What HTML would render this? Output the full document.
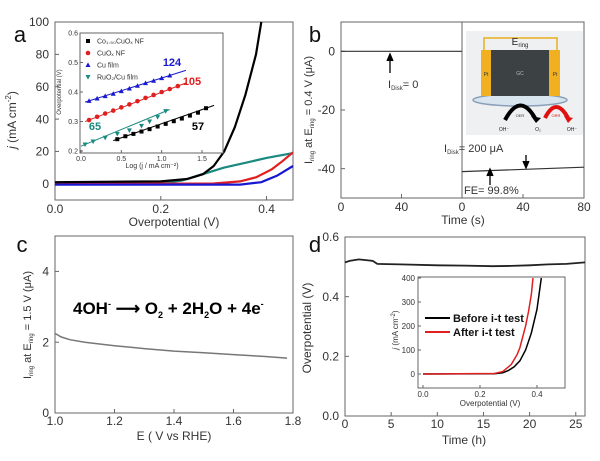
<!DOCTYPE html>
<html><head><meta charset="utf-8"><style>
body{margin:0;background:#fff}
svg{display:block;font-family:"Liberation Sans",Arial,sans-serif}
</style></head><body>
<svg id="fig" width="600" height="461" viewBox="0 0 600 461">
<g id="g"></g>
</svg>
<script>
// ---------- data ----------
const aTicksX=[0.0,0.2,0.4], aTicksY=[0,20,40,60,80,100];
const aBlackX=[0,0.2,0.25,0.28,0.3,0.32,0.34,0.36,0.38,0.39];
const aBlackY=[1,1.5,3,6,11,20,35,55,80,100];
const aTealX=[0,0.2,0.24,0.28,0.32,0.36,0.40,0.45];
const aTealY=[0,0.5,2,6,10,13,16,19];
const aRedX=[0,0.3,0.35,0.38,0.41,0.43,0.45];
const aRedY=[0,0.2,1.5,4,9,14,19.5];
const aBlueX=[0,0.35,0.39,0.42,0.45];
const aBlueY=[-0.5,-0.5,1,5,11];
const inTicksX=[0.0,0.5,1.0,1.5], inTicksY=[0.2,0.3,0.4,0.5,0.6];
const inBlueX=[0.1,0.2,0.3,0.4,0.5,0.6,0.7,0.8,0.9,1.0,1.1];
const inBlueY=[0.37,0.378,0.386,0.394,0.403,0.412,0.421,0.43,0.438,0.447,0.456];
const inRedX=[0.1,0.2,0.3,0.4,0.5,0.6,0.7,0.8,0.9,1.0,1.1,1.2];
const inRedY=[0.305,0.316,0.327,0.337,0.348,0.358,0.369,0.38,0.39,0.4,0.41,0.42];
const inBlackX=[0.45,0.55,0.65,0.75,0.85,0.95,1.05,1.15,1.25,1.35,1.45,1.55];
const inBlackY=[0.24,0.25,0.258,0.266,0.274,0.283,0.292,0.301,0.31,0.32,0.33,0.345];
const inTealX=[0.05,0.15,0.3,0.45,0.6,0.75,0.85,0.95,1.05];
const inTealY=[0.222,0.232,0.245,0.258,0.27,0.285,0.3,0.315,0.335];
const bTicksY=[0,-20,-40];
const bLeftT=[0,80], bLeftI=[0,0];
const bRightT=[0,80], bRightI=[-41,-39.5];
const cTicksX=[1.0,1.2,1.4,1.6,1.8], cTicksY=[0,2,4];
const cE=[1.0,1.02,1.05,1.1,1.15,1.2,1.3,1.4,1.5,1.6,1.7,1.78];
const cI=[2.25,2.15,2.07,2.0,1.95,1.9,1.82,1.75,1.7,1.65,1.6,1.55];
const dTicksX=[0,5,10,15,20,25], dTicksY=[0.0,0.2,0.4,0.6];
const dT=[0,0.5,1.5,3,3.5,6,10,13,16,18,20,22,24,26];
const dV=[0.515,0.52,0.525,0.52,0.51,0.508,0.505,0.504,0.502,0.503,0.505,0.508,0.51,0.515];
const diTicksX=[0.0,0.2,0.4], diTicksY=[0,100,200,300,400];
const diBlackX=[0,0.25,0.28,0.3,0.32,0.34,0.36,0.38,0.40,0.415];
const diBlackY=[0,1,5,15,30,55,100,170,270,400];
const diRedX=[0,0.25,0.28,0.31,0.33,0.34,0.36,0.37,0.38,0.386];
const diRedY=[0,2,10,40,80,110,200,260,330,400];

// ---------- helpers ----------
const NS="http://www.w3.org/2000/svg", G=document.getElementById('g');
function mk(tag,attrs,parent){const e=document.createElementNS(NS,tag);for(const k in attrs)e.setAttribute(k,attrs[k]);(parent||G).appendChild(e);return e;}
function lin(d0,d1,r0,r1){return v=>r0+(v-d0)*(r1-r0)/(d1-d0);}
function txt(x,y,s,size,anchor,fill,name,extra){const t=mk('text',Object.assign({x:x,y:y,'font-size':size,'text-anchor':anchor||'middle',fill:fill||'#333'},extra||{}));t.textContent=s;


return t;}
function series(xs,ys,X,Y,color,w,name){const d=xs.map((v,i)=>(i?'L':'M')+X(v).toFixed(1)+','+Y(ys[i]).toFixed(1)).join('');const p=mk('path',{d:d,fill:'none',stroke:color,'stroke-width':w});


return p;}
function frame(x0,y0,x1,y1,name,fill){const r=mk('rect',{x:x0,y:y0,width:x1-x0,height:y1-y0,fill:fill||'none',stroke:'#666','stroke-width':1});


return r;}
function xt(X,vals,y,len,size,fmt,name,ly){vals.forEach(v=>{mk('line',{x1:X(v),x2:X(v),y1:y,y2:y-len,stroke:'#666'});txt(X(v),ly,fmt(v),size,'middle','#333',name);});}
function yt(Y,vals,x,len,size,fmt,name,lx){vals.forEach(v=>{mk('line',{x1:x,x2:x+len,y1:Y(v),y2:Y(v),stroke:'#666'});txt(lx,Y(v)+size*0.35,fmt(v),size,'end','#333',name);});}
function mark(x,y,type,color){let e;if(type==='sq')e=mk('rect',{x:x-2,y:y-2,width:4,height:4,fill:color});
else if(type==='ci')e=mk('circle',{cx:x,cy:y,r:2.3,fill:color});
else if(type==='up')e=mk('path',{d:`M${x},${y-2.6}L${x+2.5},${y+2}L${x-2.5},${y+2}Z`,fill:color});
else e=mk('path',{d:`M${x},${y+2.6}L${x+2.5},${y-2}L${x-2.5},${y-2}Z`,fill:color});

}
const RING='I<tspan font-size="6" dy="2">ring</tspan><tspan dy="-2"> at E</tspan><tspan font-size="6" dy="2">ring</tspan><tspan dy="-2">';

// ---------- panel a ----------
{const X=lin(0,0.45,55,293),Y=lin(-10,100,200,22);
frame(55,22,293,200,'panel-a-axes');
xt(X,aTicksX,200,4,12,v=>v.toFixed(1),'a-x-tick',213);
yt(Y,aTicksY,55,4,12,v=>v,'a-y-tick',49);
txt(174,226,'Overpotential (V)',12,'middle','#333','a-x-title');
txt(16,120,'',12,'middle','#333','a-y-title',{transform:'rotate(-90 16 120)'}).innerHTML='<tspan font-style="italic">j</tspan> (mA cm<tspan font-size="8" dy="-5">-2</tspan><tspan dy="5">)</tspan>';
txt(20,42,'a',22,'middle','#111','panel-a-label');
series(aTealX,aTealY,X,Y,'#1a8a80',2.2,'a-ruo2-curve');
series(aRedX,aRedY,X,Y,'#e02020',2.2,'a-cuox-curve');
series(aBlueX,aBlueY,X,Y,'#1818d0',2.2,'a-cu-film-curve');
series(aBlackX,aBlackY,X,Y,'#000',2.2,'a-co-cuox-curve');
const IX=lin(0,1.5,81,202),IY=lin(0.2,0.6,151,33);
frame(80,33,223,153,'a-inset-axes','#fff');
xt(IX,inTicksX,153,3,7,v=>v.toFixed(1),'a-inset-x-tick',161);
yt(IY,inTicksY,80,3,7,v=>v.toFixed(1),'a-inset-y-tick',78);
txt(152,168,'Log (j / mA cm⁻²)',7,'middle','#333','a-inset-x-title');
txt(61,92,'Overpotential (V)',6,'middle','#333','a-inset-y-title',{transform:'rotate(-90 61 92)'});
const sets=[[inBlueX,inBlueY,'#1818d0','up',[0.05,1.3]],[inRedX,inRedY,'#e02020','ci',[0.05,1.3]],[inBlackX,inBlackY,'#000','sq',[0.4,1.65]],[inTealX,inTealY,'#1a8a80','dn',[0,1.1]]];
sets.forEach(s=>{const n=s[0].length;const m=(s[1][n-1]-s[1][0])/(s[0][n-1]-s[0][0]);const b=s[1][0]-m*s[0][0];
mk('line',{x1:IX(s[4][0]),y1:IY(m*s[4][0]+b),x2:IX(s[4][1]),y2:IY(m*s[4][1]+b),stroke:s[2],'stroke-width':1});
s[0].forEach((v,i)=>mark(IX(v),IY(s[1][i]),s[3],s[2]));});
const leg=[['Co₁.₅₀CuOₓ NF','#000','sq'],['CuOₓ NF','#e02020','ci'],['Cu film','#1818d0','up'],['RuO₂/Cu film','#1a8a80','dn']];
leg.forEach((l,i)=>{mark(88,41+i*12,l[2],l[1]);txt(97,43.5+i*12,l[0],7,'start','#333','a-legend-entry');});
txt(172,66,'124',11,'middle','#1818d0','a-slope-124',{'font-weight':'bold'});
txt(192,85,'105',11,'middle','#e02020','a-slope-105',{'font-weight':'bold'});
txt(95,130,'65',11,'middle','#1a8a80','a-slope-65',{'font-weight':'bold'});
txt(198,130,'57',11,'middle','#000','a-slope-57',{'font-weight':'bold'});
}

// ---------- panel b ----------
{const XL=lin(0,80,341,462),XR=lin(0,80,462,584),Y=lin(10,-50,22,198);
frame(341,22,584,198,'panel-b-axes');
mk('line',{x1:462,x2:462,y1:22,y2:198,stroke:'#666'});
[[XL(0),'0'],[XL(40),'40'],[XR(0),'0'],[XR(40),'40'],[XR(80),'80']].forEach(p=>{mk('line',{x1:p[0],x2:p[0],y1:198,y2:194,stroke:'#666'});txt(p[0],211,p[1],12,'middle','#333','b-x-tick');});
yt(Y,bTicksY,341,4,12,v=>v,'b-y-tick',335);
txt(463,224,'Time (s)',12,'middle','#333','b-x-title');
txt(312,110,'',11,'middle','#333','b-y-title',{transform:'rotate(-90 312 110)'}).innerHTML=RING+' = 0.4 V (μA)</tspan>';
txt(315,42,'b',22,'middle','#111','panel-b-label');
series(bLeftT,bLeftI,XL,Y,'#333',1.2,'b-disk-off-line');
series(bRightT,bRightI,XR,Y,'#333',1.2,'b-disk-on-line');
mk('path',{d:'M390,73L390,57M387,61L390,54L393,61',stroke:'#000','stroke-width':1.3,fill:'#000'});
txt(388,88,'I',11,'start','#333','b-idisk-0-label').innerHTML='I<tspan font-size="6" dy="2">Disk</tspan><tspan dy="-2">= 0</tspan>';
mk('path',{d:'M526,155L526,165M523,161L526,168L529,161',stroke:'#000','stroke-width':1.3,fill:'#000'});
txt(444,152,'I',11,'start','#333','b-idisk-200-label').innerHTML='I<tspan font-size="6" dy="2">Disk</tspan><tspan dy="-2">= 200 μA</tspan>';
mk('path',{d:'M490,185L490,172M487,176L490,169L493,176',stroke:'#000','stroke-width':1.3,fill:'#000'});
txt(464,194,'FE= 99.8%',11,'start','#333','b-fe-label');
const dg=mk('g',{});


mk('rect',{x:466,y:31,width:117,height:104,fill:'#eef0f2'},dg);
mk('path',{d:'M484,50L484,38L557,38L557,50',fill:'none',stroke:'#e8b020','stroke-width':1.5},dg);
mk('ellipse',{cx:520,cy:100,rx:47,ry:6,fill:'#d8e4ee',stroke:'#8aa0b8','stroke-width':1.5},dg);
mk('rect',{x:481,y:50,width:10,height:46,fill:'#f0b020'},dg);
mk('rect',{x:549,y:50,width:11,height:46,fill:'#f0b020'},dg);
mk('rect',{x:491,y:50,width:58,height:46,fill:'#3c4244'},dg);
txt(486,76,'Pt',5,'middle','#333','pt-left-label');
txt(555,76,'Pt',5,'middle','#333','pt-right-label');
txt(520,75,'GC',5,'middle','#bbb','gc-label');
txt(520,45,'E',10,'middle','#222','e-ring-label').innerHTML='E<tspan font-size="6" dy="2">ring</tspan>';
mk('path',{d:'M505,120Q520,92 535,118',fill:'none',stroke:'#000','stroke-width':4},dg);
mk('path',{d:'M531,116L541,118L536,123Z',fill:'#000'},dg);
mk('path',{d:'M545,118Q556,96 568,118',fill:'none',stroke:'#e01010','stroke-width':4},dg);
mk('path',{d:'M564,116L573,118L568,123Z',fill:'#e01010'},dg);
txt(520,117,'OER',4,'middle','#333','oer-label');
txt(556,117,'ORR',4,'middle','#e01010','orr-label');
txt(504,131,'OH⁻',5,'middle','#222','oh-label');
txt(538,131,'O₂',5,'middle','#222','o2-label');
txt(572,131,'OH⁻',5,'middle','#222','oh-product-label');
}

// ---------- panel c ----------
{const X=lin(1.0,1.8,55,293),Y=lin(0,5,413,236);
frame(55,236,293,413,'panel-c-axes');
xt(X,cTicksX,413,4,12,v=>v.toFixed(1),'c-x-tick',425);
yt(Y,cTicksY,55,4,12,v=>v,'c-y-tick',49);
txt(174,440,'E ( V vs RHE)',12,'middle','#333','c-x-title');
txt(31,325,'',11,'middle','#333','c-y-title',{transform:'rotate(-90 31 325)'}).innerHTML=RING+' = 1.5 V (μA)</tspan>';
txt(22,252,'c',22,'middle','#111','panel-c-label');
series(cE,cI,X,Y,'#777',1.5,'c-ring-current-line');
const eq=txt(73,314,'',17,'start','#000','c-equation',{'font-weight':'bold'});
eq.innerHTML='4OH<tspan font-size="9" dy="-7">-</tspan><tspan dy="7"> ⟶ O</tspan><tspan font-size="9" dy="4">2</tspan><tspan dy="-4"> + 2H</tspan><tspan font-size="9" dy="4">2</tspan><tspan dy="-4">O + 4e</tspan><tspan font-size="9" dy="-7">-</tspan>';
}

// ---------- panel d ----------
{const X=lin(0,26,345,585),Y=lin(0,0.6,416,237);
frame(345,237,585,416,'panel-d-axes');
xt(X,dTicksX,416,4,12,v=>v,'d-x-tick',428);
yt(Y,dTicksY,345,4,12,v=>v.toFixed(1),'d-y-tick',339);
txt(464,444,'Time (h)',12,'middle','#333','d-x-title');
txt(311,328,'Overpotential (V)',12,'middle','#333','d-y-title',{transform:'rotate(-90 311 328)'});
txt(315,252,'d',22,'middle','#111','panel-d-label');
series(dT,dV,X,Y,'#222',1.8,'d-overpotential-line');
const IX=lin(0,0.4,423,537),IY=lin(0,400,374,278);
frame(418,277,565,388,'d-inset-axes','#fff');
xt(IX,diTicksX,388,3,8,v=>v.toFixed(1),'d-inset-x-tick',397);
yt(IY,diTicksY,418,3,8,v=>v,'d-inset-y-tick',415);
txt(490,406,'Overpotential (V)',8,'middle','#333','d-inset-x-title');
txt(398,330,'',8,'middle','#333','d-inset-y-title',{transform:'rotate(-90 398 330)'}).innerHTML='<tspan font-style="italic">j</tspan> (mA cm<tspan font-size="6" dy="-3">-2</tspan><tspan dy="3">)</tspan>';
series(diBlackX,diBlackY,IX,IY,'#000',1.5,'d-before-curve');
series(diRedX,diRedY,IX,IY,'#e02020',1.5,'d-after-curve');
mk('line',{x1:425,x2:450,y1:318,y2:318,stroke:'#000','stroke-width':2});
txt(453,322,'Before i-t test',11,'start','#111','d-legend-before',{'font-weight':'bold'});
mk('line',{x1:425,x2:450,y1:332,y2:332,stroke:'#e02020','stroke-width':2});
txt(453,336,'After i-t test',11,'start','#111','d-legend-after',{'font-weight':'bold'});
}
</script>
</body></html>
